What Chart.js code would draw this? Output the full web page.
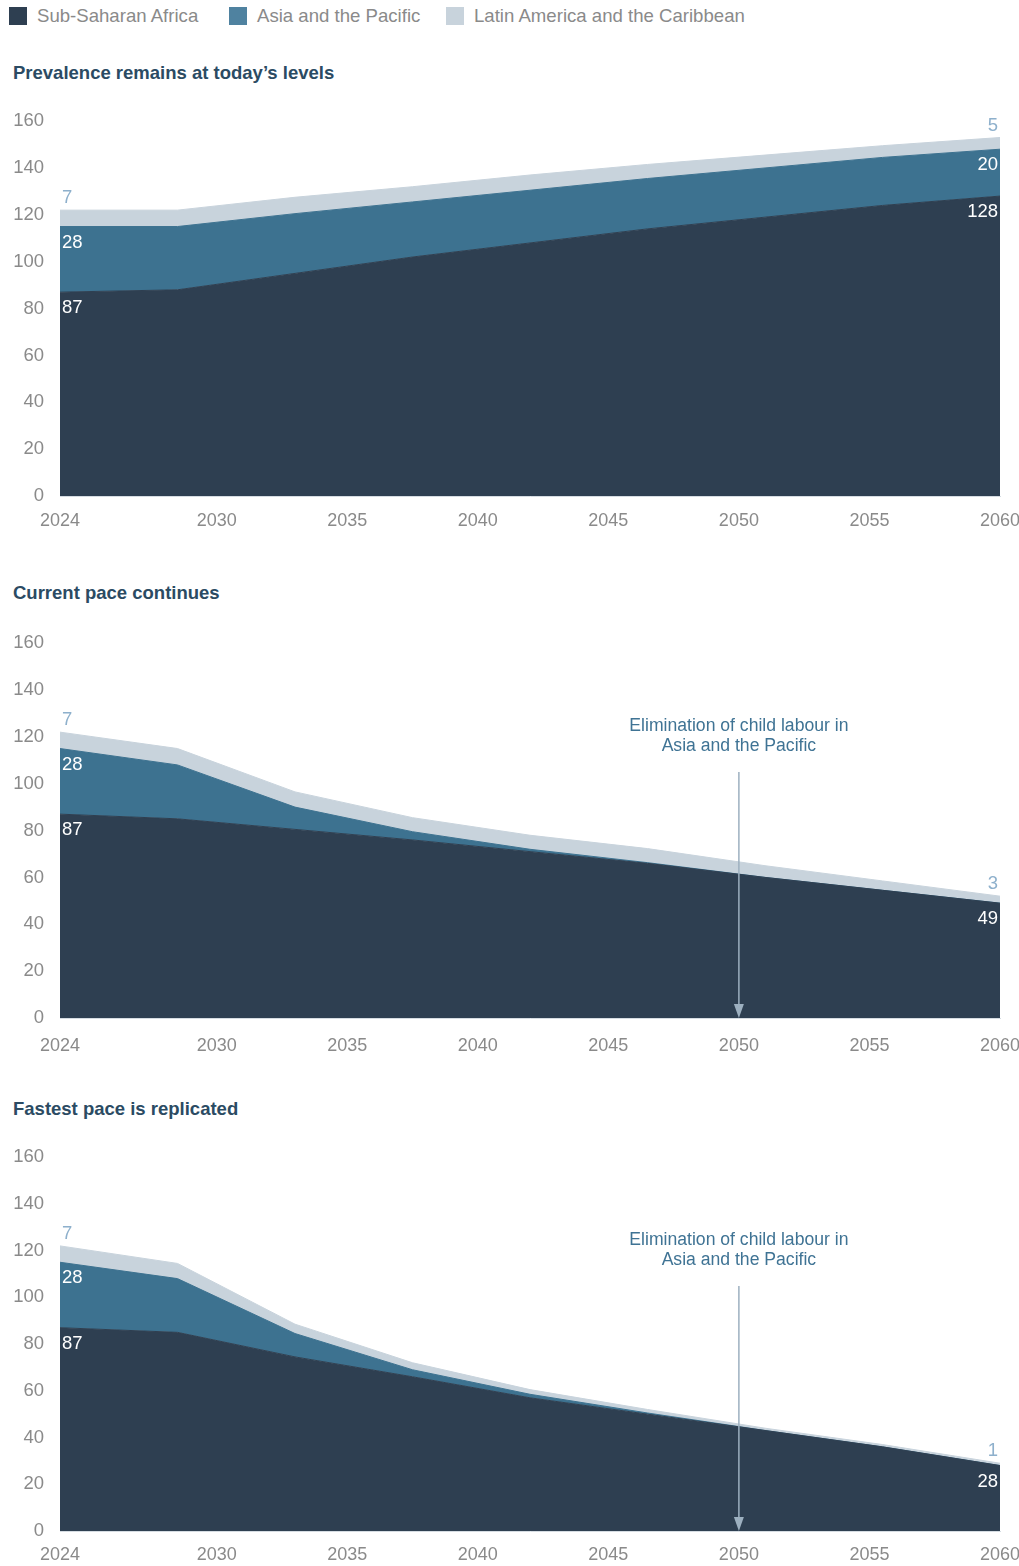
<!DOCTYPE html>
<html>
<head>
<meta charset="utf-8">
<script src="https://cdn.jsdelivr.net/npm/chart.js@4/dist/chart.umd.min.js"></script>
<style>
body { margin:0; width:1019px; height:1566px; position:relative; background:#fff; font-family:"Liberation Sans", Arial, sans-serif; overflow:hidden; }
.item { position:absolute; top:5px; font-size:18.6px; color:#8a8a8a; line-height:22px; white-space:nowrap; }
.item i { position:absolute; left:0; top:2px; width:18px; height:18px; }
.item span { margin-left:28px; }
h2 { position:absolute; left:13px; margin:0; font-size:18.5px; line-height:20px; font-weight:bold; color:#2b4b63; }
canvas { position:absolute; left:0; }
</style>
</head>
<body>
<div class="item" style="left:9px"><i style="background:#2e3f51"></i><span>Sub-Saharan Africa</span></div>
<div class="item" style="left:229px"><i style="background:#4f82a0"></i><span>Asia and the Pacific</span></div>
<div class="item" style="left:446px"><i style="background:#c8d3dc"></i><span>Latin America and the Caribbean</span></div>

<h2 style="top:63px">Prevalence remains at today’s levels</h2>
<canvas id="c1" width="1019" height="442" style="top:94px"></canvas>
<h2 style="top:583px">Current pace continues</h2>
<canvas id="c2" width="1019" height="442" style="top:616px"></canvas>
<h2 style="top:1099px">Fastest pace is replicated</h2>
<canvas id="c3" width="1019" height="436" style="top:1130px"></canvas>

<script>
// millions of children in child labour
const years = [2024, 2028.5, 2033, 2037.5, 2042, 2046.5, 2051, 2055.5, 2060];
const xTicks = [2024, 2030, 2035, 2040, 2045, 2050, 2055, 2060];
const regions = ["Sub-Saharan Africa", "Asia and the Pacific", "Latin America and the Caribbean"];

const ssaToday = [87, 88, 95, 102, 108, 114, 119, 124, 128];
const asiaToday = [28, 27, 25.5, 23.5, 22.5, 21.5, 21, 20.5, 20];
const latToday = [7, 7, 7, 6.5, 6.5, 6, 5.5, 5, 5];

const ssaCurrent = [87, 85, 80.5, 76, 71, 66, 60, 54.5, 49];
const asiaCurrent = [28, 23, 9.5, 3.5, 1, 0.3, 0, 0, 0];
const latCurrent = [7, 7, 6.5, 6, 6, 6, 5, 4, 3];

const ssaFast = [87, 85, 74.5, 66, 57, 50, 43, 36, 28];
const asiaFast = [28, 23, 10, 3, 1.5, 0.5, 0, 0, 0];
const latFast = [7, 6.5, 4, 3, 2, 1.5, 1, 1, 1];

const colors = ["#2e3f51", "#3d7290", "#c8d3dc"];
const font = '"Liberation Sans", Arial, sans-serif';

const endLabels = {
    id: "endLabels",
    afterDatasetsDraw(chart) {
        const ctx = chart.ctx;
        const xs = chart.scales.x, ys = chart.scales.y;
        ctx.save();
        ctx.font = "18.5px " + font;
        ctx.textBaseline = "middle";
        [0, years.length - 1].forEach(i => {
            const first = i === 0;
            ctx.textAlign = first ? "left" : "right";
            const x = xs.getPixelForValue(years[i]) + (first ? 2 : -2);
            let cum = 0;
            chart.data.datasets.forEach((ds, d) => {
                const v = ds.data[i].y;
                cum += v;
                if (!v) return;
                const top = ys.getPixelForValue(cum);
                if (d === 2) {
                    ctx.fillStyle = "#8eb0cc";
                    ctx.fillText(v, x, top - 12);
                } else {
                    ctx.fillStyle = "#ffffff";
                    ctx.fillText(v, x, top + 16);
                }
            });
        });
        ctx.restore();
    }
};

const elimination = {
    id: "elimination",
    afterDatasetsDraw(chart, args, opts) {
        if (!opts.show) return;
        const ctx = chart.ctx;
        const area = chart.chartArea;
        const x = chart.scales.x.getPixelForValue(2050);
        ctx.save();
        ctx.font = "17.6px " + font;
        ctx.fillStyle = "#3f7394";
        ctx.textAlign = "center";
        ctx.textBaseline = "middle";
        ctx.fillText("Elimination of child labour in", x, area.top + 83);
        ctx.fillText("Asia and the Pacific", x, area.top + 103);
        ctx.strokeStyle = "#9db0c0";
        ctx.lineWidth = 1.5;
        ctx.beginPath();
        ctx.moveTo(x, area.top + 129);
        ctx.lineTo(x, area.bottom - 12);
        ctx.stroke();
        ctx.fillStyle = "#9db0c0";
        ctx.beginPath();
        ctx.moveTo(x - 5, area.bottom - 14);
        ctx.lineTo(x + 5, area.bottom - 14);
        ctx.lineTo(x, area.bottom);
        ctx.closePath();
        ctx.fill();
        ctx.restore();
    }
};

function makeChart(id, ssa, asia, lat, xPad, xHeight, showArrow) {
    const series = [ssa, asia, lat];
    const ctx = document.getElementById(id).getContext("2d");
    return new Chart(ctx, {
        type: "line",
        data: {
            datasets: series.map((vals, k) => ({
                label: regions[k],
                data: vals.map((v, i) => ({ x: years[i], y: v })),
                backgroundColor: colors[k],
                borderColor: colors[k],
                borderWidth: 1,
                pointRadius: 0,
                tension: 0,
                fill: k === 0 ? "origin" : "-1"
            }))
        },
        options: {
            responsive: false,
            animation: false,
            layout: { padding: { top: 3, right: 19, left: 0, bottom: 0 } },
            plugins: {
                legend: { display: false },
                tooltip: { enabled: false },
                elimination: { show: showArrow }
            },
            scales: {
                x: {
                    type: "linear",
                    min: 2024,
                    max: 2060,
                    afterBuildTicks: s => { s.ticks = xTicks.map(v => ({ value: v })); },
                    afterFit: s => { s.height = xHeight; s.paddingLeft = 0; s.paddingRight = 0; },
                    grid: { display: false, drawTicks: false },
                    border: { display: true, color: "#d5dce2", width: 1 },
                    ticks: {
                        padding: xPad,
                        maxRotation: 0,
                        color: "#8a8a8a",
                        font: { size: 18, family: font },
                        callback: v => String(v)
                    }
                },
                y: {
                    stacked: true,
                    min: 0,
                    max: 160,
                    afterFit: s => { s.width = 60; },
                    grid: { display: false, drawTicks: false },
                    border: { display: false },
                    ticks: {
                        stepSize: 20,
                        padding: 16,
                        color: "#8a8a8a",
                        font: { size: 18.5, family: font }
                    }
                }
            }
        },
        plugins: [endLabels, elimination]
    });
}

makeChart("c1", ssaToday, asiaToday, latToday, 14, 40, false);
makeChart("c2", ssaCurrent, asiaCurrent, latCurrent, 17, 40, true);
makeChart("c3", ssaFast, asiaFast, latFast, 13, 35, true);
</script>
</body>
</html>
